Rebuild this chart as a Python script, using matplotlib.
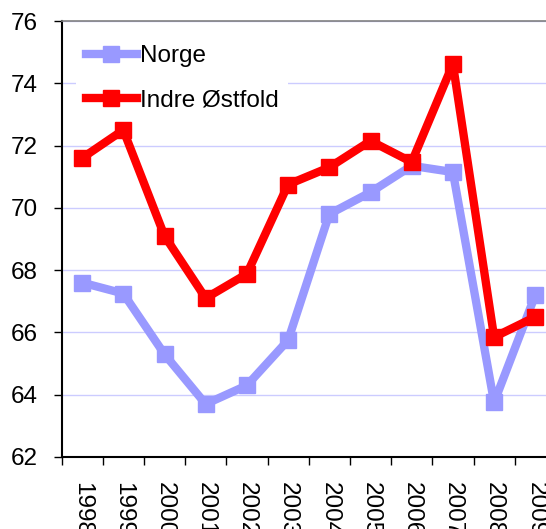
import matplotlib
matplotlib.use("Agg")
import matplotlib.pyplot as plt

plt.rcParams['font.family'] = ['Liberation Sans', 'DejaVu Sans']

years = ['1998', '1999', '2000', '2001', '2002', '2003',
         '2004', '2005', '2006', '2007', '2008', '2009']
norge = [67.6, 67.25, 65.3, 63.7, 64.3, 65.75,
         69.8, 70.5, 71.35, 71.15, 63.75, 67.2]
indre = [71.6, 72.5, 69.1, 67.1, 67.88, 70.75,
         71.3, 72.15, 71.47, 74.62, 65.85, 66.5]

fig = plt.figure(figsize=(5.46, 5.29), dpi=100)
# axes runs past the right edge, as in the original
ax = fig.add_axes([61.5 / 546, 1 - 457 / 529, 494.4 / 546, 436 / 529])

x = list(range(len(years)))
ax.plot(x, norge, color='#9999FF', lw=6, marker='s', ms=12,
        label='Norge', zorder=3)
ax.plot(x, indre, color='#FF0000', lw=6, marker='s', ms=12,
        label='Indre Østfold', zorder=4)

ax.set_ylim(62, 76)
ax.set_yticks(range(62, 77, 2))
ax.set_xlim(-0.5, len(years) - 0.5)

# ticks at category boundaries, labels at centers
ax.set_xticks([i - 0.5 for i in range(len(years) + 1)])
ax.set_xticklabels([])
ax.set_xticks(x, minor=True)
ax.set_xticklabels(years, minor=True, rotation=270, fontsize=17.5)
ax.tick_params(axis='x', which='minor', length=0, pad=18)
ax.tick_params(axis='x', which='major', length=6, width=1, direction='out')
ax.tick_params(axis='y', length=6, width=1, direction='out', pad=11,
               labelsize=17.5)

ax.grid(axis='y', color='#CCCCFF', lw=1)
ax.set_axisbelow(True)

for s in ['left', 'bottom']:
    ax.spines[s].set_color('black')
    ax.spines[s].set_linewidth(1.5)
ax.spines['top'].set_color('#808080')
ax.spines['top'].set_linewidth(1.2)
ax.spines['right'].set_visible(False)

leg = ax.legend(loc='upper left', bbox_to_anchor=(0.005, 0.995),
                fontsize=17.5, frameon=True, facecolor='white',
                edgecolor='none', framealpha=1, handlelength=2.1,
                handletextpad=0.12, labelspacing=0.92, borderpad=0.4,
                fancybox=False)

plt.savefig('out.png', dpi=100)
